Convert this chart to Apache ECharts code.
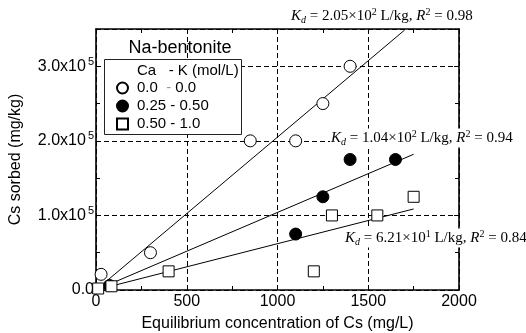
<!DOCTYPE html>
<html>
<head>
<meta charset="utf-8">
<script src="https://cdn.jsdelivr.net/npm/echarts@6/dist/echarts.min.js"></script>
<style>
  html, body { margin: 0; padding: 0; background: #fff; }
  #chart { width: 526px; height: 333px; }
</style>
</head>
<body>
<div id="chart"></div>
<script>
// Cs sorption on Na-bentonite: equilibrium concentration (mg/L) vs sorbed amount (mg/kg)
const legendNames = ['0.0 - 0.0', '0.25 - 0.50', '0.50 - 1.0'];

const set1X = [28, 300, 850, 1100, 1250, 1400];
const set1Y = [21000, 50000, 200000, 200000, 250000, 300000];

const set2X = [75, 1100, 1250, 1400, 1650];
const set2Y = [6000, 75000, 125000, 175000, 175000];

const set3X = [12, 85, 400, 1200, 1300, 1550, 1750];
const set3Y = [2000, 5000, 25000, 25000, 100000, 100000, 125000];

// Linear isotherm fits, q = Kd * C (Kd in L/kg)
const kdValues = [205, 104, 62.1];
const kdLabels = ['2.05×10', '1.04×10', '6.21×10'];
const kdExponents = ['2', '2', '1'];
const r2Values = ['0.98', '0.94', '0.84'];
const fitStartX = [50, 50, 50];
const fitEndX = [1700, 1750, 1750];

const xTicks = [0, 500, 1000, 1500, 2000];
const yMajor = [0, 100000, 200000, 300000];

const pairs = (xs, ys) => xs.map((x, i) => [x, ys[i]]);
const fitLine = i => [[fitStartX[i], kdValues[i] * fitStartX[i]], [fitEndX[i], kdValues[i] * fitEndX[i]]];

const SANS = '"Liberation Sans", Arial, sans-serif';
const SERIF = '"Liberation Serif", "Times New Roman", serif';

const chart = echarts.init(document.getElementById('chart'), null, { renderer: 'canvas' });

const gridLine = { show: true, lineStyle: { color: '#000', width: 1, type: [5, 3] } };
const axisLineStyle = { show: true, onZero: false, lineStyle: { color: '#000', width: 1.6 } };
const tickStyle = { show: true, inside: true, length: 5, lineStyle: { color: '#000', width: 1 } };
const minorStyle = { show: true, splitNumber: 2, length: 4, lineStyle: { color: '#000', width: 1 } };

function kdText(i) {
  return '{k|K}{d|d}{t| = ' + kdLabels[i] + '}{s|' + kdExponents[i] + '}{t| L/kg, }{k|R}{s|2}{t| = ' + r2Values[i] + '}';
}
const kdRich = {
  t: { fontFamily: SERIF, fontSize: 15, color: '#000' },
  k: { fontFamily: SERIF, fontSize: 15, fontStyle: 'italic', color: '#000' },
  d: { fontFamily: SERIF, fontSize: 10, fontStyle: 'italic', color: '#000', padding: [9, 0, 0, 0] },
  s: { fontFamily: SERIF, fontSize: 10, color: '#000', padding: [0, 0, 8, 0] }
};
function kdGraphic(i, x, y) {
  return {
    type: 'text', z: 6, x: x, y: y,
    style: {
      text: kdText(i), rich: kdRich, verticalAlign: 'middle', align: 'left',
      backgroundColor: '#fff', padding: [0, 1, 0, 1]
    }
  };
}

const option = {
  backgroundColor: '#fff',
  animation: false,
  grid: { left: 96, right: 67, top: 29, bottom: 43, containLabel: false, outerBoundsMode: 'none' },
  xAxis: [{
    type: 'value', min: xTicks[0], max: xTicks[xTicks.length - 1], interval: 500,
    name: 'Equilibrium concentration of Cs (mg/L)', nameLocation: 'middle', nameGap: 26,
    nameTextStyle: { fontFamily: SANS, fontSize: 16, color: '#000' },
    axisLine: axisLineStyle,
    axisTick: tickStyle,
    minorTick: minorStyle,
    axisLabel: { fontFamily: SANS, fontSize: 16, color: '#000', margin: 4, formatter: v => String(v) },
    splitLine: gridLine
  }, {
    type: 'value', position: 'top', min: 0, max: 2000, interval: 500,
    axisLine: axisLineStyle,
    axisTick: tickStyle,
    minorTick: minorStyle,
    axisLabel: { show: false }, splitLine: { show: false }
  }],
  yAxis: [{
    type: 'value', min: 0, max: 350000, interval: 100000,
    name: 'Cs sorbed (mg/kg)', nameLocation: 'middle', nameGap: 72,
    nameTextStyle: { fontFamily: SANS, fontSize: 16, color: '#000' },
    axisLine: axisLineStyle,
    axisTick: tickStyle,
    minorTick: minorStyle,
    axisLabel: {
      margin: 2,
      formatter: v => {
        if (v === 0) return '{m|0.0}';
        if (yMajor.indexOf(v) < 0) return '';
        return '{m|' + (v / 100000).toFixed(1) + 'x10}{e|5}';
      },
      rich: {
        m: { fontFamily: SANS, fontSize: 16, color: '#000' },
        e: { fontFamily: SANS, fontSize: 11, color: '#000', padding: [0, 0, 9, 2] }
      }
    },
    splitLine: gridLine
  }, {
    type: 'value', position: 'right', min: 0, max: 350000, interval: 100000,
    axisLine: axisLineStyle,
    axisTick: tickStyle,
    minorTick: minorStyle,
    axisLabel: { show: false }, splitLine: { show: false }
  }],
  legend: {
    data: legendNames, orient: 'vertical', left: 116, top: 79,
    itemWidth: 11, itemHeight: 11, itemGap: 0, padding: 0, z: 10,
    selectedMode: false,
    textStyle: {
      fontFamily: SANS, fontSize: 15, color: '#000', lineHeight: 18, padding: [0, 0, 0, 4],
      rich: {
        a: { fontFamily: SANS, fontSize: 15, color: '#000', lineHeight: 18 },
        g: { fontFamily: SANS, fontSize: 15, color: '#999', lineHeight: 18 }
      }
    },
    formatter: name => name === legendNames[0] ? '{a|0.0  }{g|-}{a| 0.0}' : name
  },
  graphic: [
    { type: 'text', z: 6, x: 180, y: 48,
      style: { text: 'Na-bentonite', font: '18px ' + SANS, fill: '#000', align: 'center', verticalAlign: 'middle' } },
    { type: 'rect', z: 5, shape: { x: 104.5, y: 59.5, width: 137, height: 75 },
      style: { fill: '#fff', stroke: '#222', lineWidth: 1 } },
    { type: 'text', z: 6, x: 137, y: 71,
      style: { text: 'Ca   - K (mol/L)', font: '15px ' + SANS, fill: '#000', align: 'left', verticalAlign: 'middle' } },
    kdGraphic(0, 290, 16),
    kdGraphic(1, 330, 138),
    kdGraphic(2, 344, 238)
  ],
  series: [0, 1, 2].map(i => ({
    type: 'line', data: fitLine(i), showSymbol: false, symbol: 'none', z: 2,
    lineStyle: { color: '#000', width: 1 }, silent: true
  })).concat([
    { name: legendNames[0], type: 'scatter', data: pairs(set1X, set1Y), symbol: 'circle', symbolSize: 12, z: 3,
      itemStyle: { color: '#fff', borderColor: '#000', borderWidth: 1, opacity: 1 } },
    { name: legendNames[1], type: 'scatter', data: pairs(set2X, set2Y), symbol: 'circle', symbolSize: 12, z: 3,
      itemStyle: { color: '#000', borderColor: '#000', borderWidth: 1, opacity: 1 } },
    { name: legendNames[2], type: 'scatter', data: pairs(set3X, set3Y), symbol: 'rect', symbolSize: 11, z: 4,
      itemStyle: { color: '#fff', borderColor: '#000', borderWidth: 1, opacity: 1 } }
  ])
};

chart.setOption(option);
</script>
</body>
</html>
